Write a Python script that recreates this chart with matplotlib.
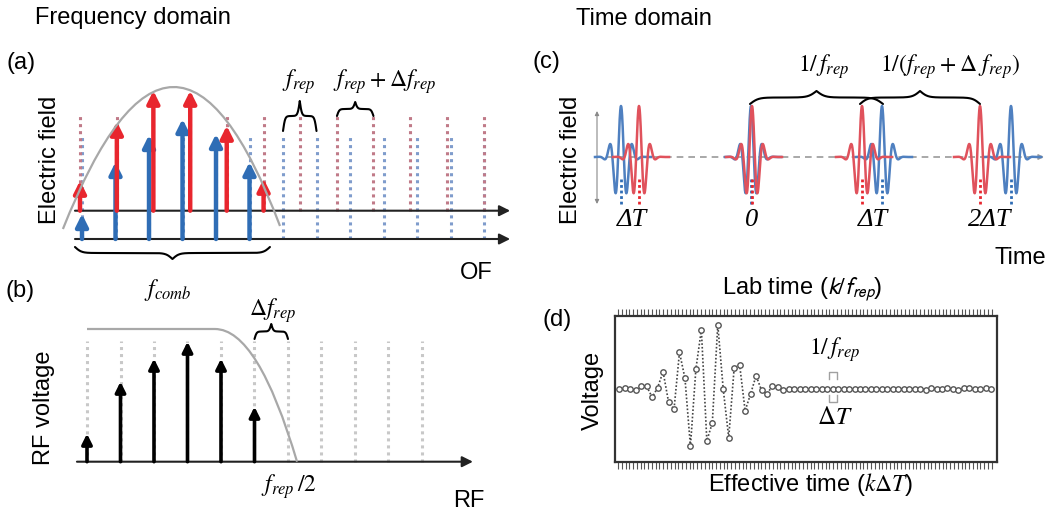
import matplotlib as mpl
mpl.use('Agg')
import matplotlib.pyplot as plt
from matplotlib.path import Path
from matplotlib.patches import PathPatch
import numpy as np

plt.rcParams['font.family'] = ['Liberation Sans', 'DejaVu Sans']
plt.rcParams['mathtext.fontset'] = 'stix'

W, H = 1048, 510

# (a) optical combs: position in units of f_rep, height above its own axis
blue_lines = [0, 1, 2, 3, 4, 5, 6, 7, 8, 9, 10, 11, 12]
red_lines = [-0.06, 1.04, 2.13, 3.23, 4.32, 5.42, 6.51, 7.61, 8.70, 9.80, 10.89, 11.99]
blue_amp = [25, 77, 104, 120, 105, 77]
red_amp = [30, 89, 120, 120, 85, 32]
red_axis = 28.3

# (b) down-converted RF comb
rf_lines = [0, 1, 2, 3, 4, 5, 6, 7, 8, 9, 10]
rf_amp = [28, 80, 103, 120, 103, 55]

# (c) pulse trains (time axis, 0 = overlapping pulses)
red_t = [-113, 0, 110, 228]
blue_t = [-131, -1, 130, 259]
label_t = [-120, 0, 121, 238]
time_labels = ['\u0394T', '0', '\u0394T', '2\u0394T']
pulse_amp, pulse_period, pulse_width = 51, 11.5, 9.5

# (d) sampled interferogram
volt = [0, 1, -0.3, -1.3, 3.3, 2.7, -8.3, 1.3, 17.3, -13, -20.3, 36.7, 10.7, -57.3,
        20, 59.3, -51.7, -34, 64.3, -0.3, -48.7, 21.3, 24, -21.7, -5, 13.3, -1.3, -5,
        3.3, 1.7, -1, 0.3, 0.3, 0.3, 0.3,
        0, 0, 0, 0, 0, 0, 0, 0, 0, 0, 0, 0, 0, 0, 0, 0,
        0.5, 0, 0, 0.5, 0, -0.5, 1, 0, 0.5, 1.5, 0.5, -1, 1, 1.5, 0, 0, 1, 0]

RED = '#e8262e'
BLUE = '#2f6db5'
RED_DOT = '#c07a88'
BLUE_DOT = '#7f9ccc'
PRED = '#e0525c'
PBLUE = '#4f80c0'


def px_axes(l, t, r, b):
    ax = fig.add_axes([l / W, 1 - b / H, (r - l) / W, (b - t) / H])
    ax.axis('off')
    return ax


def ftext(x, y, s, **kw):
    kw.setdefault('ha', 'center')
    kw.setdefault('va', 'center')
    fig.text(x / W, 1 - y / H, s, **kw)


def arrow(ax, x0, y0, x1, y1, color='k', lw=1.5, ms=14, style='-|>'):
    ax.annotate('', xy=(x1, y1), xytext=(x0, y0),
                arrowprops=dict(arrowstyle=style, color=color, lw=lw,
                                mutation_scale=ms, shrinkA=0, shrinkB=0))


def brace(ax, x0, x1, y, h, color='k', lw=1.5, b=32):
    u = np.linspace(0, 0.5, 151)
    yh = 1 / (1 + np.exp(-b * u)) + 1 / (1 + np.exp(-b * (u - 0.5))) - 0.5
    yy = np.concatenate([yh, yh[-2::-1]])
    uu = np.concatenate([u, 1 - u[-2::-1]])
    ax.plot(x0 + (x1 - x0) * uu, y + h * yy, color=color, lw=lw,
            solid_capstyle='round')


fig = plt.figure(figsize=(W / 100, H / 100), dpi=100)

# ---------------- (a) ----------------
ax = px_axes(60, 60, 530, 265)
ax.set_xlim(-0.657, 13.373)
ax.set_ylim(-25, 180)
ax.vlines(blue_lines, 0, 105, colors=BLUE_DOT, linestyles=(0, (1, 1.3)), lw=2.2, zorder=1)
ax.vlines(red_lines, red_axis, 123, colors=RED_DOT, linestyles=(0, (1, 1.3)), lw=2.2, zorder=1)
arrow(ax, -0.21, 0, 12.78, 0, color='#222', lw=1.5, ms=16)
arrow(ax, -0.21, red_axis, 12.78, red_axis, color='#222', lw=1.5, ms=16)
for x, a in zip(blue_lines, blue_amp):
    arrow(ax, x, 0, x, a, color=BLUE, lw=3.2, ms=18)
for x, a in zip(red_lines, red_amp):
    arrow(ax, x, red_axis, x, red_axis + a, color=RED, lw=3.2, ms=18)
env = Path([(-0.57, 10), (2.77, 292.5), (5.91, 13)],
           [Path.MOVETO, Path.CURVE3, Path.CURVE3])
ax.add_patch(PathPatch(env, fill=False, ec='#a8a8a8', lw=1.6, zorder=5))
brace(ax, blue_lines[6], blue_lines[7], 108, 30)
brace(ax, red_lines[7], red_lines[8], 123, 14)
brace(ax, -0.21, 5.61, -8, -12, b=60)
ax.text(6.48, 158, r'$f_{rep}$', fontsize=17, ha='center', va='center')
ax.text(9.04, 158, r'$f_{rep}+\Delta f_{rep}$', fontsize=17, ha='center', va='center')
ax.text(2.57, -50, r'$f_{comb}$', fontsize=17, ha='center', va='center')

ftext(133, 18, 'Frequency domain', fontsize=17)
ftext(21, 63, '(a)', fontsize=17)
ftext(50, 160, 'Electric field', fontsize=17, rotation=90)
ftext(476, 273, 'OF', fontsize=17)

# ---------------- (b) ----------------
ax = px_axes(60, 300, 530, 510)
ax.set_xlim(-0.806, 13.224)
ax.set_ylim(-47.3, 162.7)
ax.vlines(rf_lines, 0, 121, colors='#c8c8c8', linestyles=(0, (1, 1.3)), lw=2.2, zorder=1)
arrow(ax, -0.3, 0, 11.52, 0, color='#222', lw=1.5, ms=16)
for x, a in zip(rf_lines, rf_amp):
    arrow(ax, x, 0, x, a, color='k', lw=2.6, ms=15)
lpf = Path([(0, 132.7), (3.82, 132.7), (5.1, 132.7), (6.27, 0)],
           [Path.MOVETO, Path.LINETO, Path.CURVE3, Path.CURVE3])
ax.add_patch(PathPatch(lpf, fill=False, ec='#a8a8a8', lw=1.6, zorder=5))
brace(ax, rf_lines[5], rf_lines[6], 122.7, 15)
ax.text(5.55, 151.7, r'$\Delta f_{rep}$', fontsize=17, ha='center', va='center')
ax.text(6.03, -24, r'$f_{rep}\,/2$', fontsize=17, ha='center', va='center')

ftext(20, 291, '(b)', fontsize=17)
ftext(44, 408, 'RF voltage', fontsize=17, rotation=90)
ftext(469, 501, 'RF', fontsize=17)

# ---------------- (c) ----------------
ax = px_axes(590, 40, 1048, 270)
ax.set_xlim(-162, 296)
ax.set_ylim(-112, 118)
ax.plot([-157, 287], [0, 0], color='#9a9a9a', lw=1.2, ls=(0, (4, 3)), zorder=1)
arrow(ax, 285, 0, 292, 0, color='#9a9a9a', lw=1, ms=8)
arrow(ax, -155, -47, -155, 46, color='#8a8a8a', lw=0.8, ms=6, style='<|-|>')
tt = np.linspace(-26, 30, 400)
shape = pulse_amp * np.exp(-(tt / pulse_width) ** 2) * np.cos(2 * np.pi * tt / pulse_period)
for t0 in blue_t:
    ax.plot(t0 + tt, shape, color=PBLUE, lw=1.8, zorder=3)
for t0 in red_t:
    ax.plot(t0 + tt, shape, color=PRED, lw=1.8, zorder=4)
ax.vlines(blue_t, -47, -22, colors=BLUE, linestyles=(0, (1, 1)), lw=2, zorder=5)
ax.vlines(red_t, -47, -22, colors=RED, linestyles=(0, (1, 1)), lw=2, zorder=5)
for t0, s in zip(label_t, time_labels):
    ax.text(t0, -62, s, fontsize=19, ha='center', va='center',
            family='Liberation Serif', style='italic')
brace(ax, -2, 131, 53, 13)
brace(ax, 108, 228, 53, 13)
ax.text(72, 91, r'$1/\,f_{rep}$', fontsize=17, ha='center', va='center')
ax.text(198, 91, r'$1/(f_{rep}+\Delta\ f_{rep})$', fontsize=17, ha='center', va='center')

ftext(644, 19, 'Time domain', fontsize=17)
ftext(546, 62, '(c)', fontsize=17)
ftext(571, 160, 'Electric field', fontsize=17, rotation=90)
ftext(1020, 258, 'Time', fontsize=17)

# ---------------- (d) ----------------
ax = fig.add_axes([615 / W, 1 - 463 / H, 382 / W, 146 / H])
ax.set_xlim(-0.79, 69.05)
ax.set_ylim(-73, 73)
ax.plot(range(len(volt)), volt, ls=(0, (1, 1.2)), color='#444', lw=1.2,
        marker='o', ms=3.9, mfc='white', mec='#555', mew=1.0)
for s in ax.spines.values():
    s.set_linewidth(1.6)
    s.set_color('#333')
ax.set_yticks([])
ax.set_xticks(np.linspace(-0.25, 68.1, 100))
ax.tick_params(axis='x', top=True, bottom=True, direction='out', length=5,
               width=0.8, color='#555', labelbottom=False, labeltop=False)
ax.plot([38.3, 38.3, 39.8, 39.8], [10, 17, 17, 10], color='#a0a0a0', lw=1)
ax.plot([38.3, 38.3, 39.8, 39.8], [-6, -13, -13, -6], color='#a0a0a0', lw=1)
ax.text(39.4, 40, r'$1/\,f_{rep}$', fontsize=17, ha='center', va='center')
ax.text(39.4, -27, r'$\Delta T$', fontsize=18, ha='center', va='center')

ftext(557, 320, '(d)', fontsize=17)
ftext(593, 390, 'Voltage', fontsize=17, rotation=90)
ftext(802, 289, r'Lab time ($k/f_{rep}$)', fontsize=17, math_fontfamily='stixsans')
ftext(811, 485, r'Effective time ($k\Delta T$)', fontsize=17)

fig.savefig('out.png', dpi=100)
